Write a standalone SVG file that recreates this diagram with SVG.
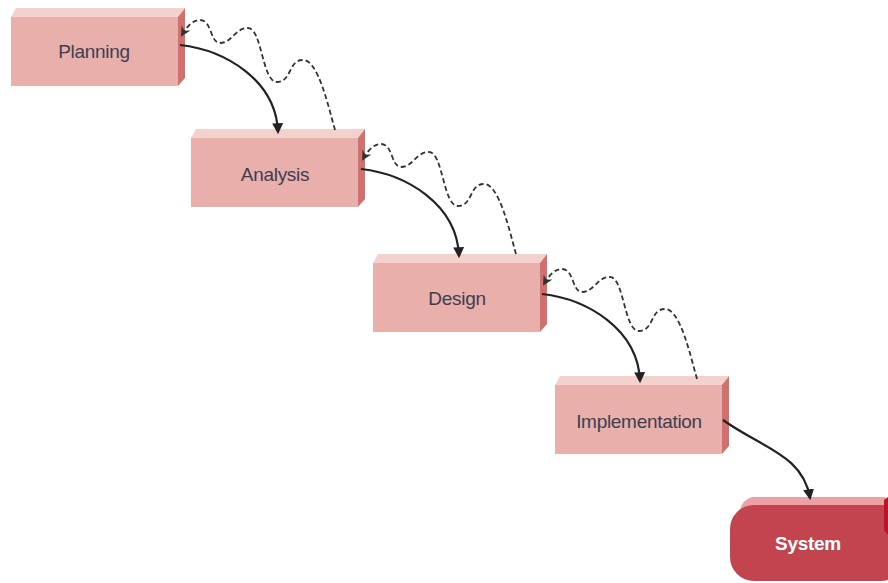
<svg xmlns="http://www.w3.org/2000/svg" width="888" height="583" viewBox="0 0 888 583">
<style>
.front{fill:#e8afab}
.top{fill:#f3d2ce}
.side{fill:#d2706f}
.lbl{font-family:"Liberation Sans",Arial,sans-serif;font-size:19px;fill:#3e3e52;text-anchor:middle;letter-spacing:-0.3px}
.sys{font-family:"Liberation Sans",Arial,sans-serif;font-size:19px;font-weight:bold;fill:#ffffff;text-anchor:middle;letter-spacing:-0.3px}
.solid{fill:none;stroke:#222;stroke-width:2.2}
.dash{fill:none;stroke:#333;stroke-width:1.8;stroke-dasharray:5,3}
</style>
<defs>
<marker id="ah" viewBox="0 0 10 10" refX="8" refY="5" markerWidth="5" markerHeight="5" orient="auto" markerUnits="strokeWidth">
<path d="M0,0 L10,5 L0,10 z" fill="#222"/>
</marker>
<marker id="ao" viewBox="0 0 10 10" refX="8" refY="5" markerWidth="5.5" markerHeight="5.5" orient="auto" markerUnits="strokeWidth">
<path d="M0,0 L10,5 L0,10 L3,5 z" fill="#333"/>
</marker>
<g id="box">
<polygon class="top" points="0,0 5,-9 174,-9 167,0"/>
<polygon class="side" points="167,0 174,-9 174,61 167,69"/>
<rect class="front" x="0" y="0" width="167" height="69"/>
</g>
</defs>
<g id="planning" transform="translate(11,17)">
<use href="#box"/>
<text class="lbl" x="83" y="41">Planning</text>
</g>
<g id="analysis" transform="translate(191,138)">
<use href="#box"/>
<text class="lbl" x="84" y="43">Analysis</text>
</g>
<g id="design" transform="translate(373,263)">
<use href="#box"/>
<text class="lbl" x="84" y="42">Design</text>
</g>
<g id="implementation" transform="translate(555,385)">
<use href="#box"/>
<text class="lbl" x="84" y="43">Implementation</text>
</g>
<g id="system">
<path d="M752,497 L885,497 L888,500 L888,510 L740,510 Q742,500 752,497 z" fill="#e9a3a7"/>
<rect x="730" y="505" width="175" height="76" rx="24" ry="24" fill="#c2444f"/>
<path d="M884,500 L888,497 L888,535 L884,530 z" fill="#c0102c"/>
<text class="sys" x="808" y="550">System</text>
</g>
<g id="connectors">
<g id="step1">
<path class="solid" d="M180,45 C225,50 276,80 278,132" marker-end="url(#ah)"/>
<path class="dash" d="M335,130 C328,105 318,60 303,60 C288,60 292,82 277,82 C262,82 262,28 248,28 C235,28 232,43 220,43 C210,43 212,20 200,20 C192,20 186,28 182,35" marker-end="url(#ao)"/>
</g>
<use href="#step1" transform="translate(181,124)"/>
<use href="#step1" transform="translate(362,249)"/>
<path class="solid" d="M723,420 C762,448 803,455 810,498" marker-end="url(#ah)"/>
</g>
</svg>
